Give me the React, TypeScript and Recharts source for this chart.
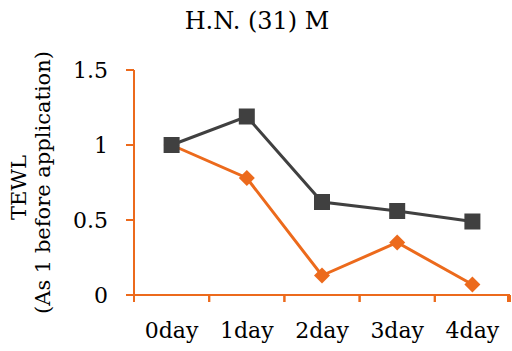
import { LineChart, Line, XAxis, YAxis } from "recharts";

const days = ["0day", "1day", "2day", "3day", "4day"];
const graySeries = [1, 1.19, 0.62, 0.56, 0.49];
const orangeSeries = [1, 0.78, 0.13, 0.35, 0.07];
const yTicks = [0, 0.5, 1, 1.5];

const ORANGE = "#EC6A1C";
const GRAY = "#404040";
const FONT = "DejaVu Serif";

const data = days.map((day, i) => ({
  day,
  pos: i + 0.5,
  gray: graySeries[i],
  orange: orangeSeries[i],
}));

const Square = (props: any) => {
  const { cx, cy, index } = props;
  if (cx == null || cy == null) return <g key={`sq-${index}`} />;
  return <rect key={`sq-${index}`} x={cx - 8} y={cy - 8} width={16} height={16} fill={GRAY} />;
};

const Diamond = (props: any) => {
  const { cx, cy, index } = props;
  if (cx == null || cy == null) return <g key={`dm-${index}`} />;
  const r = 8;
  return (
    <path
      key={`dm-${index}`}
      d={`M${cx},${cy - r}L${cx + r},${cy}L${cx},${cy + r}L${cx - r},${cy}Z`}
      fill={ORANGE}
    />
  );
};

// tick mark below the x axis (labels come from the second axis)
const XTickMark = (props: any) => {
  const { x, y } = props;
  return <rect x={x - 1} y={y - 7} width={2} height={7} fill={ORANGE} />;
};

// y tick: number plus a short orange mark left of the axis
const YTick = (props: any) => {
  const { x, y, payload } = props;
  return (
    <g>
      <rect x={x + 18} y={y - 1} width={8} height={2} fill={ORANGE} />
      <text x={x} y={y} textAnchor="end" dominantBaseline="central" fontFamily={FONT} fontSize={22} fill="#000">
        {String(payload.value)}
      </text>
    </g>
  );
};

const YLabel = (props: any) => {
  const { viewBox } = props;
  const cy = viewBox.y + viewBox.height / 2;
  const x = viewBox.x;
  return (
    <g fontFamily={FONT} fontSize={21} fill="#000">
      <text x={x + 19} y={cy + 5} transform={`rotate(-90 ${x + 19} ${cy + 5})`} textAnchor="middle" dominantBaseline="central">
        TEWL
      </text>
      <text x={x + 43} y={cy} transform={`rotate(-90 ${x + 43} ${cy})`} textAnchor="middle" dominantBaseline="central">
        (As 1 before application)
      </text>
    </g>
  );
};

export default function App() {
  const tickStyle = { fill: "#000", fontSize: 22, fontFamily: FONT };
  return (
    <div style={{ position: "absolute", left: 0, top: 0, width: 512, height: 351, background: "#fff", fontFamily: FONT }}>
      <div style={{ position: "absolute", left: 0, top: 7, width: 514, textAlign: "center", fontSize: 24, color: "#000" }}>
        H.N. (31) M
      </div>
      <LineChart width={512} height={351} data={data} margin={{ top: 70, right: 2, left: 0, bottom: 0 }}>
        <XAxis
          xAxisId="grid"
          type="number"
          dataKey="pos"
          domain={[0, 5]}
          ticks={[0, 1, 2, 3, 4, 5]}
          tick={XTickMark}
          tickSize={7}
          tickMargin={0}
          height={10}
          stroke={ORANGE}
          strokeWidth={2}
        />
        <XAxis
          xAxisId="names"
          type="number"
          dataKey="pos"
          domain={[0, 5]}
          ticks={data.map((d) => d.pos)}
          tickFormatter={(v: number) => days[Math.floor(v)]}
          axisLine={false}
          tickLine={false}
          tickSize={0}
          tickMargin={17}
          height={46}
          tick={tickStyle}
        />
        <YAxis
          type="number"
          domain={[0, 1.5]}
          ticks={yTicks}
          width={134}
          tickSize={8}
          tickMargin={18}
          stroke={ORANGE}
          strokeWidth={2}
          tick={YTick}
          label={<YLabel />}
        />
        <Line
          xAxisId="grid"
          dataKey="orange"
          stroke={ORANGE}
          strokeWidth={3}
          dot={Diamond}
          isAnimationActive={false}
        />
        <Line
          xAxisId="grid"
          dataKey="gray"
          stroke={GRAY}
          strokeWidth={3}
          dot={Square}
          isAnimationActive={false}
        />
      </LineChart>
    </div>
  );
}
